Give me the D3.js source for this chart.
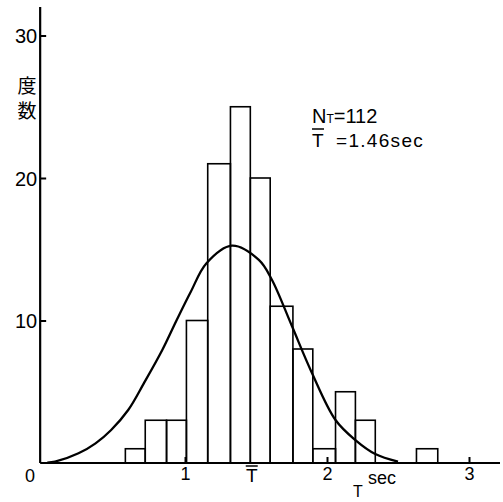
<!DOCTYPE html>
<html lang="ja">
<head>
<meta charset="UTF-8">
<title>周期の度数分布</title>
<script src="https://d3js.org/d3.v7.min.js"></script>
<style>
    body { margin: 0; background: #fff; }
    .axis path, .axis line { stroke: #000; stroke-width: 2px; }
    .axis text { font-family: "Liberation Sans", Arial, sans-serif; fill: #000; }
    .bar { fill: none; stroke: #000; stroke-width: 1.6px; }
    .curve { fill: none; stroke: #000; stroke-width: 2.3px; }
    .lab { font-family: "Liberation Sans", Arial, sans-serif; fill: #000; }
</style>
</head>
<body>
<svg id="chart"></svg>
<script>
// bin edges (sec) and counts
var binEdges = [0.58, 0.72, 0.87, 1.01, 1.16, 1.32, 1.46, 1.60, 1.76, 1.90, 2.06, 2.20, 2.34, 2.49, 2.63, 2.78];
var counts = [1, 3, 3, 10, 21, 25, 20, 11, 8, 1, 5, 3, 0, 0, 1];

// fitted curve, points
var curveX = [0.03, 0.085, 0.25, 0.37, 0.48, 0.60, 0.71, 0.84, 0.94, 1.04, 1.15, 1.33, 1.52, 1.61, 1.75, 1.89, 2.06, 2.20, 2.34, 2.50];
var curveY = [0.02, 0.09, 0.68, 1.38, 2.32, 3.72, 5.59, 7.93, 10.0, 12.0, 14.0, 15.25, 14.25, 12.9, 9.68, 6.41, 3.02, 1.61, 0.63, 0.09];

var yTicks = [10, 20, 30];
var xTicks = [1, 2, 3];
var meanT = 1.47;

var width = 503, height = 502;
var svg = d3.select("#chart").attr("width", width).attr("height", height);

var x = d3.scaleLinear().domain([0, 3]).range([43, 469]);
var y = d3.scaleLinear().domain([0, 30]).range([463, 35.5]);

// bars
var bars = counts.map(function(c, i) {
    return { x0: binEdges[i], x1: binEdges[i + 1], n: c };
}).filter(function(d) { return d.n > 0; });

svg.selectAll(".bar")
    .data(bars)
    .enter().append("rect")
    .attr("class", "bar")
    .attr("x", function(d) { return x(d.x0); })
    .attr("width", function(d) { return x(d.x1) - x(d.x0); })
    .attr("y", function(d) { return y(d.n); })
    .attr("height", function(d) { return y(0) - y(d.n); });

// curve
var line = d3.line()
    .x(function(d) { return x(d[0]); })
    .y(function(d) { return y(d[1]); })
    .curve(d3.curveCatmullRom.alpha(0.5));

svg.append("path")
    .attr("class", "curve")
    .attr("d", line(curveX.map(function(v, i) { return [v, curveY[i]]; })));

// y axis
var axisX = x(-0.02);
var yAxis = svg.append("g")
    .attr("class", "axis")
    .attr("transform", "translate(" + axisX + ",0)")
    .call(d3.axisLeft(y).tickValues(yTicks).tickSizeInner(-6).tickSizeOuter(0).tickPadding(3));
yAxis.select(".domain").remove();
yAxis.selectAll("text").attr("font-size", 20).attr("dy", "0.36em");
svg.append("line")
    .attr("x1", axisX).attr("x2", axisX)
    .attr("y1", 7).attr("y2", y(0))
    .attr("stroke", "#000").attr("stroke-width", 2.2);

// x axis
var xAxis = svg.append("g")
    .attr("class", "axis")
    .attr("transform", "translate(0," + y(0) + ")")
    .call(d3.axisBottom(x).tickValues(xTicks).tickSizeInner(-6).tickSizeOuter(0).tickPadding(4)
        .tickFormat(d3.format("d")));
xAxis.select(".domain").remove();
xAxis.selectAll("text").attr("font-size", 18);
svg.append("line")
    .attr("x1", axisX).attr("x2", 500)
    .attr("y1", y(0)).attr("y2", y(0))
    .attr("stroke", "#000").attr("stroke-width", 2);

// origin label
svg.append("text").attr("class", "lab")
    .attr("x", 30).attr("y", 482)
    .attr("text-anchor", "middle").attr("font-size", 18).text("0");

// mean marker on axis
svg.append("text").attr("class", "lab")
    .attr("x", x(meanT)).attr("y", 482)
    .attr("text-anchor", "middle").attr("font-size", 19).text("T");
svg.append("line")
    .attr("x1", x(meanT) - 6).attr("x2", x(meanT) + 6)
    .attr("y1", 466).attr("y2", 466)
    .attr("stroke", "#000").attr("stroke-width", 1.5);

// axis titles
svg.append("text").attr("class", "lab")
    .attr("x", 368).attr("y", 484).attr("font-size", 18).text("sec");
svg.append("text").attr("class", "lab")
    .attr("x", 358).attr("y", 497)
    .attr("text-anchor", "middle").attr("font-size", 16).text("T");

svg.append("text")
    .attr("x", 27).attr("y", 93)
    .attr("text-anchor", "middle")
    .attr("font-family", "Noto Sans CJK JP").attr("font-size", 19).text("度");
svg.append("text")
    .attr("x", 27).attr("y", 118)
    .attr("text-anchor", "middle")
    .attr("font-family", "Noto Sans CJK JP").attr("font-size", 19).text("数");

// annotation
var note = svg.append("text").attr("class", "lab")
    .attr("x", 312).attr("y", 123).attr("font-size", 20);
note.append("tspan").text("N");
note.append("tspan").attr("font-size", 12).text("T");
note.append("tspan").text("=112");

svg.append("text").attr("class", "lab")
    .attr("x", 312).attr("y", 147).attr("font-size", 19).text("T");
svg.append("line")
    .attr("x1", 312).attr("x2", 324)
    .attr("y1", 129).attr("y2", 129)
    .attr("stroke", "#000").attr("stroke-width", 1.5);
svg.append("text").attr("class", "lab")
    .attr("x", 336).attr("y", 147).attr("font-size", 19)
    .attr("letter-spacing", "1.3px").text("=1.46sec");
</script>
</body>
</html>
